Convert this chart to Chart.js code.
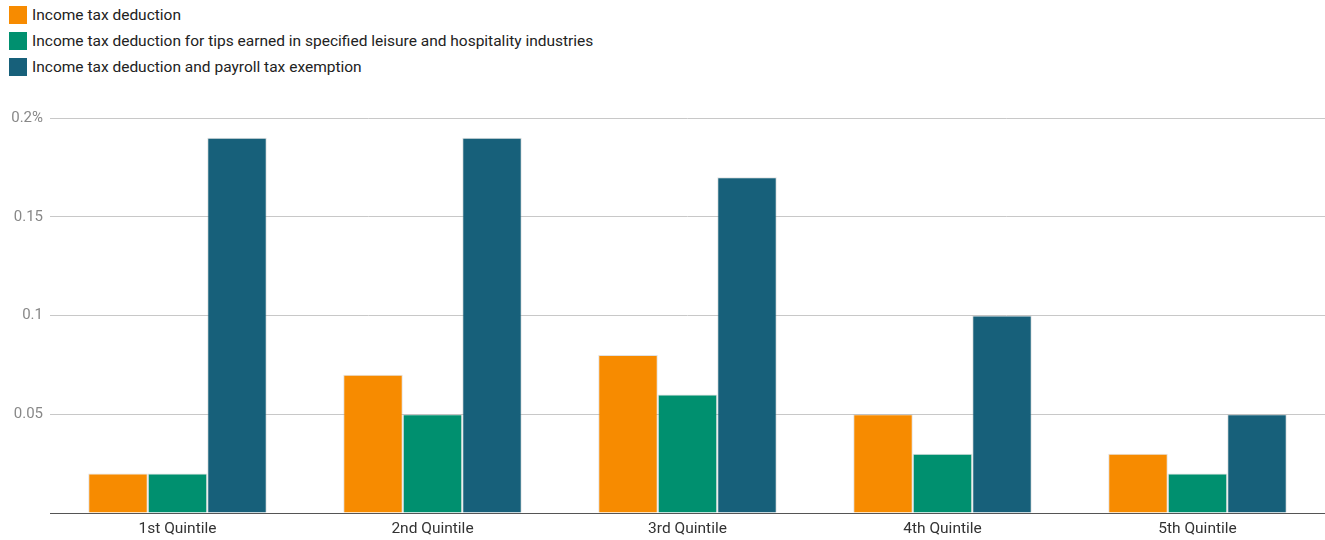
<!DOCTYPE html>
<html>
<head>
<meta charset="utf-8">
<script src="https://cdn.jsdelivr.net/npm/chart.js@4/dist/chart.umd.min.js"></script>
<style>
  body { margin: 0; background: #fff; font-family: Roboto, sans-serif; }
  #legend { position: absolute; left: 9px; top: 2px; }
  .item { height: 26px; display: flex; align-items: center; font-size: 15.5px; color: #222; }
  .box { width: 18px; height: 18px; margin-right: 5px; }
  #wrap { position: absolute; left: 0; top: 100px; width: 1325px; height: 440px; }
</style>
</head>
<body>
<div id="legend"></div>
<div id="wrap"><canvas id="tax-chart"></canvas></div>
<script>
const categories = ["1st Quintile", "2nd Quintile", "3rd Quintile", "4th Quintile", "5th Quintile"];
const seriesNames = [
  "Income tax deduction",
  "Income tax deduction for tips earned in specified leisure and hospitality industries",
  "Income tax deduction and payroll tax exemption"
];
const incomeTaxDeduction = [0.02, 0.07, 0.08, 0.05, 0.03];
const tipsDeduction = [0.02, 0.05, 0.06, 0.03, 0.02];
const payrollExemption = [0.19, 0.19, 0.17, 0.10, 0.05];
const yTickLabels = ["", "0.05", "0.1", "0.15", "0.2%"];
const colors = ["#f78b00", "#00906f", "#17607a"];

/* ======================= */
/*         Chart           */
/* ======================= */
const taxCanvas = document.querySelector("#tax-chart");
const seriesValues = [incomeTaxDeduction, tipsDeduction, payrollExemption];

const taxChart = new Chart(taxCanvas, {
  type: "bar",
  data: {
    labels: categories,
    datasets: seriesValues.map((vals, i) => ({
      label: seriesNames[i],
      data: vals,
      backgroundColor: colors[i],
      borderColor: "rgba(170,170,170,0.35)",
      borderWidth: 1,
      categoryPercentage: 0.7,
      barPercentage: 1,
    })),
  },
  options: {
    responsive: true,
    maintainAspectRatio: false,
    animation: false,
    layout: { padding: { top: 18, right: 0, left: 0, bottom: 0 } },
    plugins: {
      legend: { display: false },
      tooltip: { enabled: false },
    },
    scales: {
      x: {
        grid: { display: false, drawTicks: false },
        border: { color: "#555", width: 1 },
        ticks: { color: "#333", font: { family: "Roboto", size: 15.5 }, padding: 7 },
        afterFit: (scale) => { scale.height = 27; },
      },
      y: {
        min: 0,
        max: 0.2,
        grid: { color: "#c8c8c8", drawTicks: false },
        border: { display: false },
        ticks: {
          stepSize: 0.05,
          color: "#888",
          font: { family: "Roboto", size: 15 },
          padding: 7,
          callback: (value, index) => yTickLabels[index],
        },
        afterFit: (scale) => { scale.width = 50; },
      },
    },
  },
});

// legend built from the datasets
const legendEl = document.querySelector("#legend");
taxChart.data.datasets.forEach((ds) => {
  const row = document.createElement("div");
  row.className = "item";
  const box = document.createElement("span");
  box.className = "box";
  box.style.background = ds.backgroundColor;
  row.appendChild(box);
  row.appendChild(document.createTextNode(ds.label));
  legendEl.appendChild(row);
});
</script>
</body>
</html>
